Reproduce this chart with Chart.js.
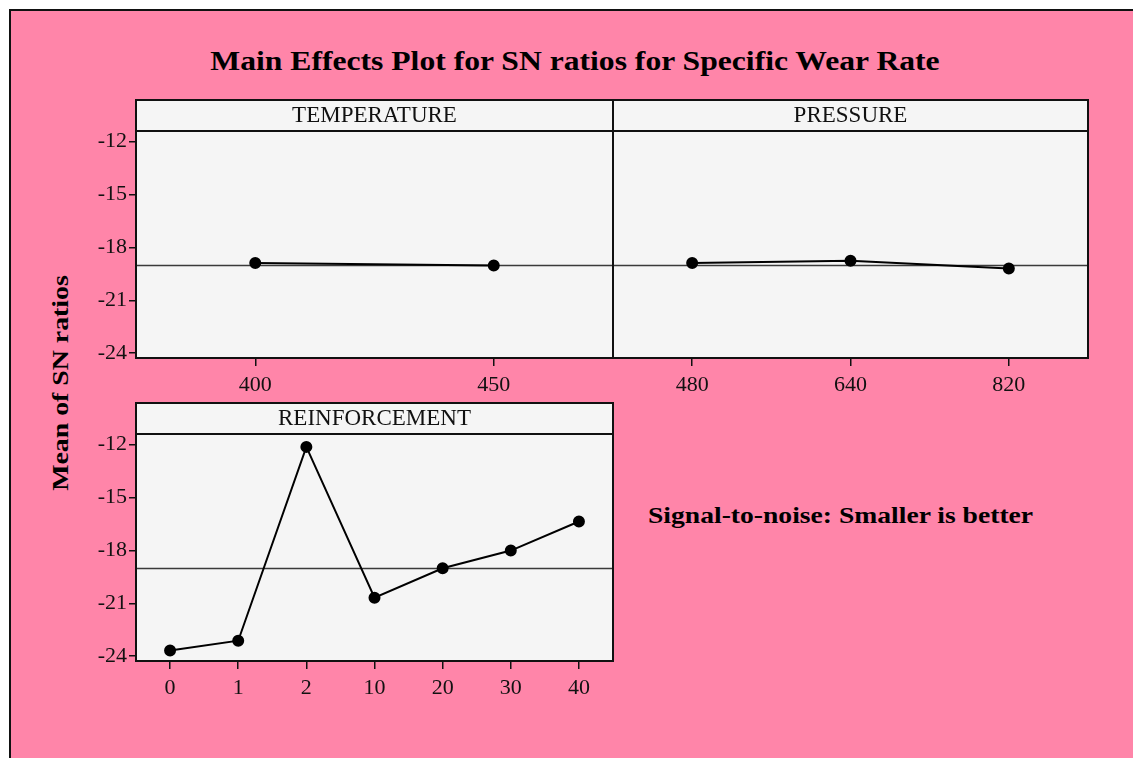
<!DOCTYPE html>
<html>
<head>
<meta charset="utf-8">
<script src="https://cdn.jsdelivr.net/npm/chart.js@4.4.1/dist/chart.umd.min.js"></script>
<style>
  html, body { margin:0; padding:0; background:#fff; width:1133px; height:758px; overflow:hidden; }
  #frame { position:absolute; left:9px; top:9px; width:1140px; height:760px; background:#FF85A9;
           border-left:2px solid #111; border-top:2px solid #111; }
  canvas { position:absolute; }
  .txt { position:absolute; font-family:"Liberation Serif", serif; font-weight:bold; color:#000; white-space:nowrap; }
  #title { left:575px; top:45px; transform:translateX(-50%) scaleX(1.15); font-size:27.5px; }
  #ylab { left:60px; top:383px; transform:translate(-50%,-50%) rotate(-90deg) scaleX(1.16); font-size:24px; }
  #sn { left:648px; top:502px; font-size:24px; transform-origin:0 50%; transform:scaleX(1.15); }
</style>
</head>
<body>
<div id="frame"></div>
<div class="txt" id="title">Main Effects Plot for SN ratios for Specific Wear Rate</div>
<div class="txt" id="ylab">Mean of SN ratios</div>
<div class="txt" id="sn">Signal-to-noise: Smaller is better</div>
<canvas id="c1" width="545" height="310" style="left:78px;top:88px"></canvas>
<canvas id="c2" width="495" height="310" style="left:603px;top:88px"></canvas>
<canvas id="c3" width="545" height="310" style="left:78px;top:391px"></canvas>
<script>
// ---- data ----
const temperatureLevels = ['400', '450'];
const temperatureSN = [-18.88, -19.02];
const pressureLevels = ['480', '640', '820'];
const pressureSN = [-18.88, -18.76, -19.19];
const reinforcementLevels = ['0', '1', '2', '10', '20', '30', '40'];
const reinforcementSN = [-23.68, -23.12, -12.13, -20.68, -19.01, -18.01, -16.36];
const overallMean = -18.97;
const yTickValues = [-24, -21, -18, -15, -12];
const yMin = -24.27, yMax = -11.40;

const FONT = '"Liberation Serif", serif';
const HEADER_H = 31;

const panelPlugin = {
  id: 'panel',
  beforeDraw(chart) {
    const a = chart.chartArea, ctx = chart.ctx;
    ctx.save();
    ctx.fillStyle = '#F5F5F5';
    ctx.fillRect(a.left, a.top - HEADER_H, a.right - a.left, a.bottom - a.top + HEADER_H);
    ctx.restore();
  },
  beforeDatasetsDraw(chart) {
    const a = chart.chartArea, ctx = chart.ctx;
    const y = Math.round(chart.scales.y.getPixelForValue(overallMean)) + 0.5;
    ctx.save();
    ctx.strokeStyle = '#3a3a3a';
    ctx.lineWidth = 1.6;
    ctx.beginPath(); ctx.moveTo(a.left, y); ctx.lineTo(a.right, y); ctx.stroke();
    ctx.restore();
  },
  afterDraw(chart) {
    const a = chart.chartArea, ctx = chart.ctx;
    ctx.save();
    ctx.strokeStyle = '#111';
    ctx.lineWidth = 2;
    ctx.strokeRect(a.left, a.top - HEADER_H, a.right - a.left, a.bottom - a.top + HEADER_H);
    ctx.beginPath(); ctx.moveTo(a.left, a.top); ctx.lineTo(a.right, a.top); ctx.stroke();
    ctx.restore();
  }
};

function makeChart(id, header, labels, values, opts) {
  return new Chart(document.getElementById(id), {
    type: 'line',
    data: {
      labels: labels,
      datasets: [{
        data: values,
        borderColor: '#000',
        backgroundColor: '#000',
        borderWidth: 2,
        pointRadius: 5,
        pointBackgroundColor: '#000',
        pointBorderColor: '#000',
        tension: 0,
        fill: false
      }]
    },
    options: {
      responsive: false,
      animation: false,
      devicePixelRatio: 1,
      layout: { padding: opts.padding },
      plugins: {
        legend: { display: false },
        tooltip: { enabled: false },
        title: {
          display: true, text: header, fullSize: false, color: '#111',
          font: { family: FONT, size: 23, weight: 'normal', lineHeight: 24 / 23 },
          padding: { top: 4, bottom: 3 }
        }
      },
      scales: {
        x: {
          type: 'category', offset: true,
          grid: { display: true, drawOnChartArea: false, drawTicks: true, tickLength: 8, color: '#111', lineWidth: 1.5, offset: false },
          border: { display: false },
          ticks: { color: '#111', font: { family: FONT, size: 22 }, padding: 6, maxRotation: 0 },
          afterFit(s) { s.height = 40; }
        },
        y: {
          type: 'linear', min: yMin, max: yMax, display: opts.showY,
          grid: { display: true, drawOnChartArea: false, drawTicks: true, tickLength: 7, color: '#111', lineWidth: 1.5 },
          border: { display: false },
          ticks: { color: '#111', font: { family: FONT, size: 22 }, padding: 2 },
          afterBuildTicks(s) { s.ticks = yTickValues.map(v => ({ value: v })); },
          afterFit(s) { if (opts.showY) s.width = 58; }
        }
      }
    },
    plugins: [panelPlugin]
  });
}

makeChart('c1', 'TEMPERATURE', temperatureLevels, temperatureSN, { padding: { left: 0, top: 12, right: 10, bottom: 0 }, showY: true });
makeChart('c2', 'PRESSURE', pressureLevels, pressureSN, { padding: { left: 10, top: 12, right: 10, bottom: 0 }, showY: false });
makeChart('c3', 'REINFORCEMENT', reinforcementLevels, reinforcementSN, { padding: { left: 0, top: 12, right: 10, bottom: 0 }, showY: true });
</script>
</body>
</html>
